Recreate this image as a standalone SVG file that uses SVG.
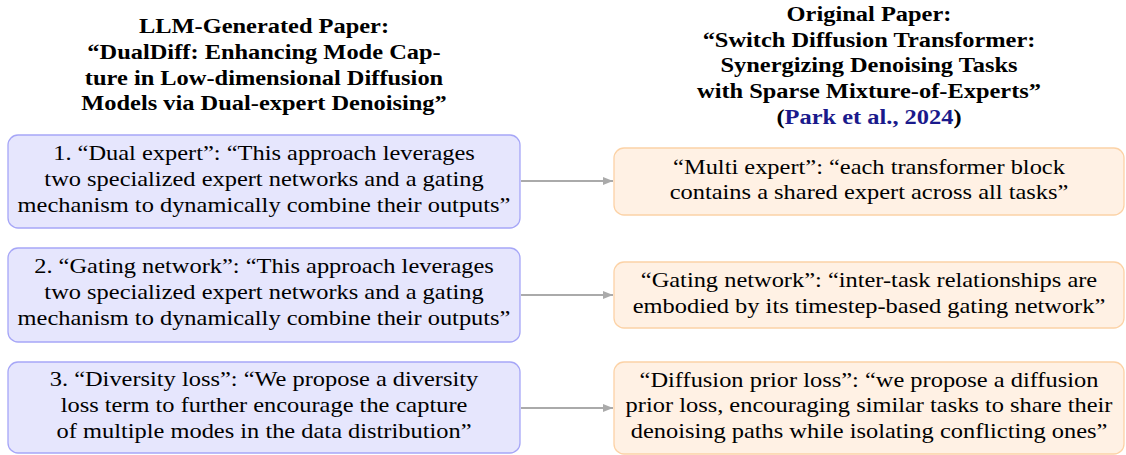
<svg xmlns="http://www.w3.org/2000/svg" width="1126" height="455" viewBox="0 0 1126 455">
<style>
  .t { font-family: "Liberation Serif", "Times New Roman", serif; font-size: 22px; fill: #000; text-anchor: middle; }
  .h { font-weight: bold; }
  .cite { fill: #1a1a8c; }
  .lbox { fill: #e6e6fd; stroke: #a6a6f7; stroke-width: 1.3; }
  .rbox { fill: #fff1e4; stroke: #fcd2a6; stroke-width: 1.3; }
  .conn { stroke: #aaaaaa; stroke-width: 2; fill: none; }
</style>
<defs>
  <marker id="arr" viewBox="0 0 10 8" refX="10" refY="4" markerWidth="10" markerHeight="8" markerUnits="userSpaceOnUse" orient="auto">
    <path d="M0,0 L10,4 L0,8 Z" fill="#aaaaaa"/>
  </marker>
</defs>
<rect width="1126" height="455" fill="#ffffff"/>

<g id="heading-left" transform="translate(264 0) scale(1.11 1)">
  <text class="t h" x="0" y="33">LLM-Generated Paper:</text>
  <text class="t h" x="0" y="59">“DualDiff: Enhancing Mode Cap-</text>
  <text class="t h" x="0" y="85">ture in Low-dimensional Diffusion</text>
  <text class="t h" x="0" y="110.5">Models via Dual-expert Denoising”</text>
</g>

<g id="heading-right" transform="translate(869 0) scale(1.11 1)">
  <text class="t h" x="0" y="21">Original Paper:</text>
  <text class="t h" x="0" y="47">“Switch Diffusion Transformer:</text>
  <text class="t h" x="0" y="72.5">Synergizing Denoising Tasks</text>
  <text class="t h" x="0" y="98.5">with Sparse Mixture-of-Experts”</text>
  <text class="t h" x="0" y="124">(<tspan class="cite">Park et al., 2024</tspan>)</text>
</g>

<g id="connectors">
  <line class="conn" x1="521" y1="181" x2="613" y2="181" marker-end="url(#arr)"/>
  <line class="conn" x1="521" y1="295" x2="613" y2="295" marker-end="url(#arr)"/>
  <line class="conn" x1="521" y1="408" x2="613" y2="408" marker-end="url(#arr)"/>
</g>

<g id="left-1">
  <rect class="lbox" x="8" y="135" width="512" height="93" rx="10"/>
  <g transform="translate(264 0) scale(1.11 1)">
    <text class="t" x="0" y="160">1. “Dual expert”: “This approach leverages</text>
    <text class="t" x="0" y="185.8">two specialized expert networks and a gating</text>
    <text class="t" x="0" y="211.6">mechanism to dynamically combine their outputs”</text>
  </g>
</g>

<g id="left-2">
  <rect class="lbox" x="8" y="248" width="512" height="94" rx="10"/>
  <g transform="translate(264 0) scale(1.11 1)">
    <text class="t" x="0" y="273.2">2. “Gating network”: “This approach leverages</text>
    <text class="t" x="0" y="299">two specialized expert networks and a gating</text>
    <text class="t" x="0" y="324.8">mechanism to dynamically combine their outputs”</text>
  </g>
</g>

<g id="left-3">
  <rect class="lbox" x="8" y="362" width="512" height="91" rx="10"/>
  <g transform="translate(264 0) scale(1.11 1)">
    <text class="t" x="0" y="386.4">3. “Diversity loss”: “We propose a diversity</text>
    <text class="t" x="0" y="412.2">loss term to further encourage the capture</text>
    <text class="t" x="0" y="438">of multiple modes in the data distribution”</text>
  </g>
</g>

<g id="right-1">
  <rect class="rbox" x="614" y="148" width="510" height="67" rx="10"/>
  <g transform="translate(869 0) scale(1.11 1)">
    <text class="t" x="0" y="173.6">“Multi expert”: “each transformer block</text>
    <text class="t" x="0" y="199.4">contains a shared expert across all tasks”</text>
  </g>
</g>

<g id="right-2">
  <rect class="rbox" x="614" y="262" width="510" height="66" rx="10"/>
  <g transform="translate(869 0) scale(1.11 1)">
    <text class="t" x="0" y="287">“Gating network”: “inter-task relationships are</text>
    <text class="t" x="0" y="312.8">embodied by its timestep-based gating network”</text>
  </g>
</g>

<g id="right-3">
  <rect class="rbox" x="614" y="362" width="510" height="92" rx="10"/>
  <g transform="translate(869 0) scale(1.11 1)">
    <text class="t" x="0" y="386.7">“Diffusion prior loss”: “we propose a diffusion</text>
    <text class="t" x="0" y="412.5">prior loss, encouraging similar tasks to share their</text>
    <text class="t" x="0" y="438.3">denoising paths while isolating conflicting ones”</text>
  </g>
</g>
</svg>
